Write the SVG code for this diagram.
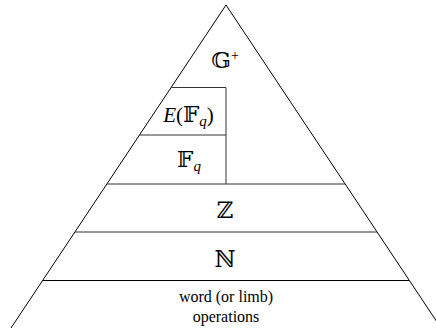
<svg xmlns="http://www.w3.org/2000/svg" width="436" height="328" viewBox="0 0 436 328">
<style>
.ln{fill:none;stroke:#000;stroke-width:1}
.sep{fill:none;stroke:#333;stroke-width:1}
.m{font-family:"Liberation Serif","DejaVu Serif","DejaVu Sans",serif;font-size:21px;fill:#000;text-anchor:middle}
.bb{font-size:23px}
.t{font-family:"Liberation Serif","DejaVu Serif",serif;font-size:16px;fill:#000;text-anchor:middle}
</style>
<rect width="436" height="328" fill="#fff"/>
<g id="connectors">
<path class="ln" d="M11,328 L226,5 L441,328"/>
<line class="sep" x1="107" y1="184" x2="345" y2="184"/>
<line class="sep" x1="75" y1="232" x2="377" y2="232"/>
<line class="ln" x1="43" y1="280.5" x2="409" y2="280.5"/>
<polyline class="sep" points="171.5,87.5 226,87.5 226,184"/>
<line class="sep" x1="139.5" y1="135" x2="226" y2="135"/>
</g>
<g id="node-gplus">
<text class="m" x="225" y="68"><tspan class="bb" font-size="24">𝔾</tspan><tspan font-size="14" dy="-8">+</tspan></text>
</g>
<g id="node-efq">
<text class="m" x="188.5" y="122"><tspan font-style="italic">E</tspan>(<tspan class="bb">𝔽</tspan><tspan font-style="italic" font-size="15" dy="4">q</tspan><tspan dy="-4">)</tspan></text>
</g>
<g id="node-fq">
<text class="m" x="189" y="167"><tspan class="bb">𝔽</tspan><tspan font-style="italic" font-size="15" dy="4">q</tspan></text>
</g>
<g id="node-z">
<text class="m bb" x="225" y="218" font-size="24">ℤ</text>
</g>
<g id="node-n">
<text class="m bb" x="225" y="267" font-size="24">ℕ</text>
</g>
<g id="node-word">
<text class="t" x="226" y="302">word (or limb)</text>
<text class="t" x="226" y="321.5">operations</text>
</g>
</svg>
